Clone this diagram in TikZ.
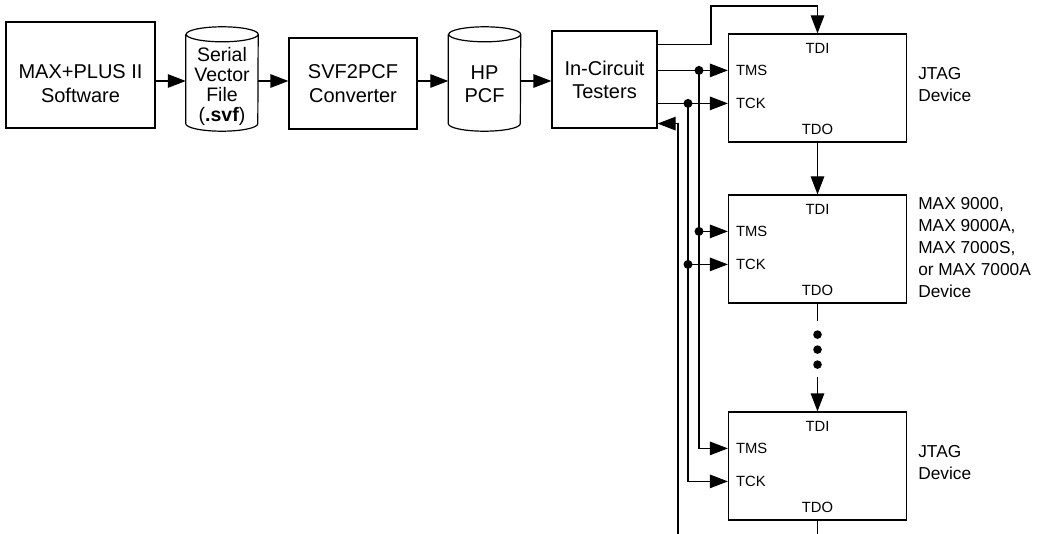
\documentclass[tikz,border=0pt]{standalone}
\usepackage{fontspec}
\setmainfont{Liberation Sans}
\usetikzlibrary{arrows.meta,positioning}

\begin{document}
\begin{tikzpicture}[x=1pt, y=1pt,
	box/.style={draw, line width=1.2pt, align=center, inner sep=0pt, font=\fontsize{20}{24}\selectfont},
	txt/.style={align=center, inner sep=0pt, font=\fontsize{20}{24}\selectfont},
	cylbody/.style={inner sep=0pt, minimum width=72pt, minimum height=104pt},
	dev/.style={draw, line width=1.2pt, minimum width=178pt, minimum height=108pt, inner sep=0pt},
	pin/.style={inner sep=0pt, font=\fontsize{14.8}{16}\selectfont},
	side/.style={anchor=west, align=left, inner sep=0pt, font=\fontsize{17.3}{22}\selectfont},
	wire/.style={line width=1.2pt},
	sig/.style={line width=1.2pt, -{Triangle[length=18pt, width=13.5pt]}}]
	\useasboundingbox (0,0) rectangle (1043,-534);
	%% design flow
	\coordinate (flow) at (0,-81);
	\node[box, minimum width=149pt, minimum height=106pt] (maxp) at (80.5,-75) {};
	\node[txt] (maxp-t) at ([yshift=-8.3pt]maxp.center) {MAX+PLUS II\\Software};
	\node[cylbody] (svf) at (222,-79) {};
	\node[txt, font=\fontsize{19.5}{20}\selectfont] (svf-t) at ([yshift=-7pt]svf.center) {Serial\\Vector\\File\\(\textbf{.svf})};
	\node[box, minimum width=128pt, minimum height=91pt] (conv) at (353,-83.5) {SVF2PCF\\Converter};
	\node[cylbody] (pcf) at (484.5,-79) {};
	\node[txt, font=\fontsize{20}{23}\selectfont] (pcf-t) at ([yshift=-5pt]pcf.center) {HP\\PCF};
	\node[box, minimum width=105pt, minimum height=97pt, font=\fontsize{20}{23}\selectfont] (ict) at (604.5,-79.5) {In-Circuit\\Testers};
	\foreach \c in {svf,pcf}
		\draw[wire] ([yshift=-7.5pt]\c.north west) -- ([yshift=7.5pt]\c.south west)
			arc[start angle=180, end angle=360, x radius=36pt, y radius=7.5pt]
			-- ([yshift=-7.5pt]\c.north east)
			arc[start angle=0, end angle=360, x radius=36pt, y radius=7.5pt];
	\draw[sig] (maxp.east |- flow) -- (svf.west |- flow);
	\draw[sig] (svf.east |- flow) -- (conv.west |- flow);
	\draw[sig] (conv.east |- flow) -- (pcf.west |- flow);
	\draw[sig] (pcf.east |- flow) -- (ict.west |- flow);
	%% device chain
	\foreach \d/\yc in {d1/-88, d2/-249, d3/-466} {
		\node[dev] (\d) at (817.5,\yc) {};
		\node[pin] (\d-tdi) at ([yshift=-15pt]\d.north) {TDI};
		\node[pin, anchor=west] (\d-tms) at ([xshift=8pt, yshift=-37pt]\d.north west) {TMS};
		\node[pin, anchor=west] (\d-tck) at ([xshift=8pt, yshift=-70pt]\d.north west) {TCK};
		\node[pin] (\d-tdo) at ([yshift=13pt]\d.south) {TDO};
	}
	\node[side] (d1-name) at ([xshift=11pt, yshift=3.5pt]d1.east) {JTAG\\Device};
	\node[side] (d2-name) at ([xshift=11pt, yshift=1pt]d2.east) {MAX 9000,\\MAX 9000A,\\MAX 7000S,\\or MAX 7000A\\Device};
	\node[side] (d3-name) at ([xshift=11pt, yshift=3.5pt]d3.east) {JTAG\\Device};
	%% test signals
	\coordinate (bot) at (0,-534);
	\coordinate (tmsbus) at (699,0);
	\coordinate (tckbus) at (688,0);
	\coordinate (retbus) at (678,0);
	\coordinate (tdiout) at ([yshift=-14pt]ict.north east);
	\coordinate (tdijog) at (711,-6);
	\coordinate (ictret) at ([yshift=5pt]ict.south east);
	\draw[sig] (tdiout) -- (tdiout -| tdijog) -- (tdijog) -- (tdijog -| d1.north) -- (d1.north);
	\draw[sig] (ict.east |- d1-tms) -- (d1.west |- d1-tms);
	\draw[sig] (ict.east |- d1-tck) -- (d1.west |- d1-tck);
	\draw[sig] (tmsbus |- d1-tms) -- (tmsbus |- d3-tms) -- (d3.west |- d3-tms);
	\draw[sig] (tckbus |- d1-tck) -- (tckbus |- d3-tck) -- (d3.west |- d3-tck);
	\draw[sig] (tmsbus |- d2-tms) -- (d2.west |- d2-tms);
	\draw[sig] (tckbus |- d2-tck) -- (d2.west |- d2-tck);
	\foreach \p in {d1-tms, d2-tms}
		\fill (tmsbus |- \p) circle (4.5pt);
	\foreach \p in {d1-tck, d2-tck}
		\fill (tckbus |- \p) circle (4.5pt);
	\draw[sig] (retbus |- bot) -- (retbus |- ictret) -- (ictret);
	%% TDO to TDI
	\coordinate (gap1) at ([yshift=-17pt]d2.south);
	\coordinate (gap2) at ([yshift=34pt]d3.north);
	\draw[sig] (d1.south) -- (d2.north);
	\draw[wire] (d2.south) -- (gap1);
	\foreach \k in {14,29,44}
		\fill ([yshift=-\k pt]gap1) circle (4.3pt);
	\draw[sig] (gap2) -- (d3.north);
	\draw[wire] (d3.south) -- (d3.south |- bot);
\end{tikzpicture}
\end{document}
